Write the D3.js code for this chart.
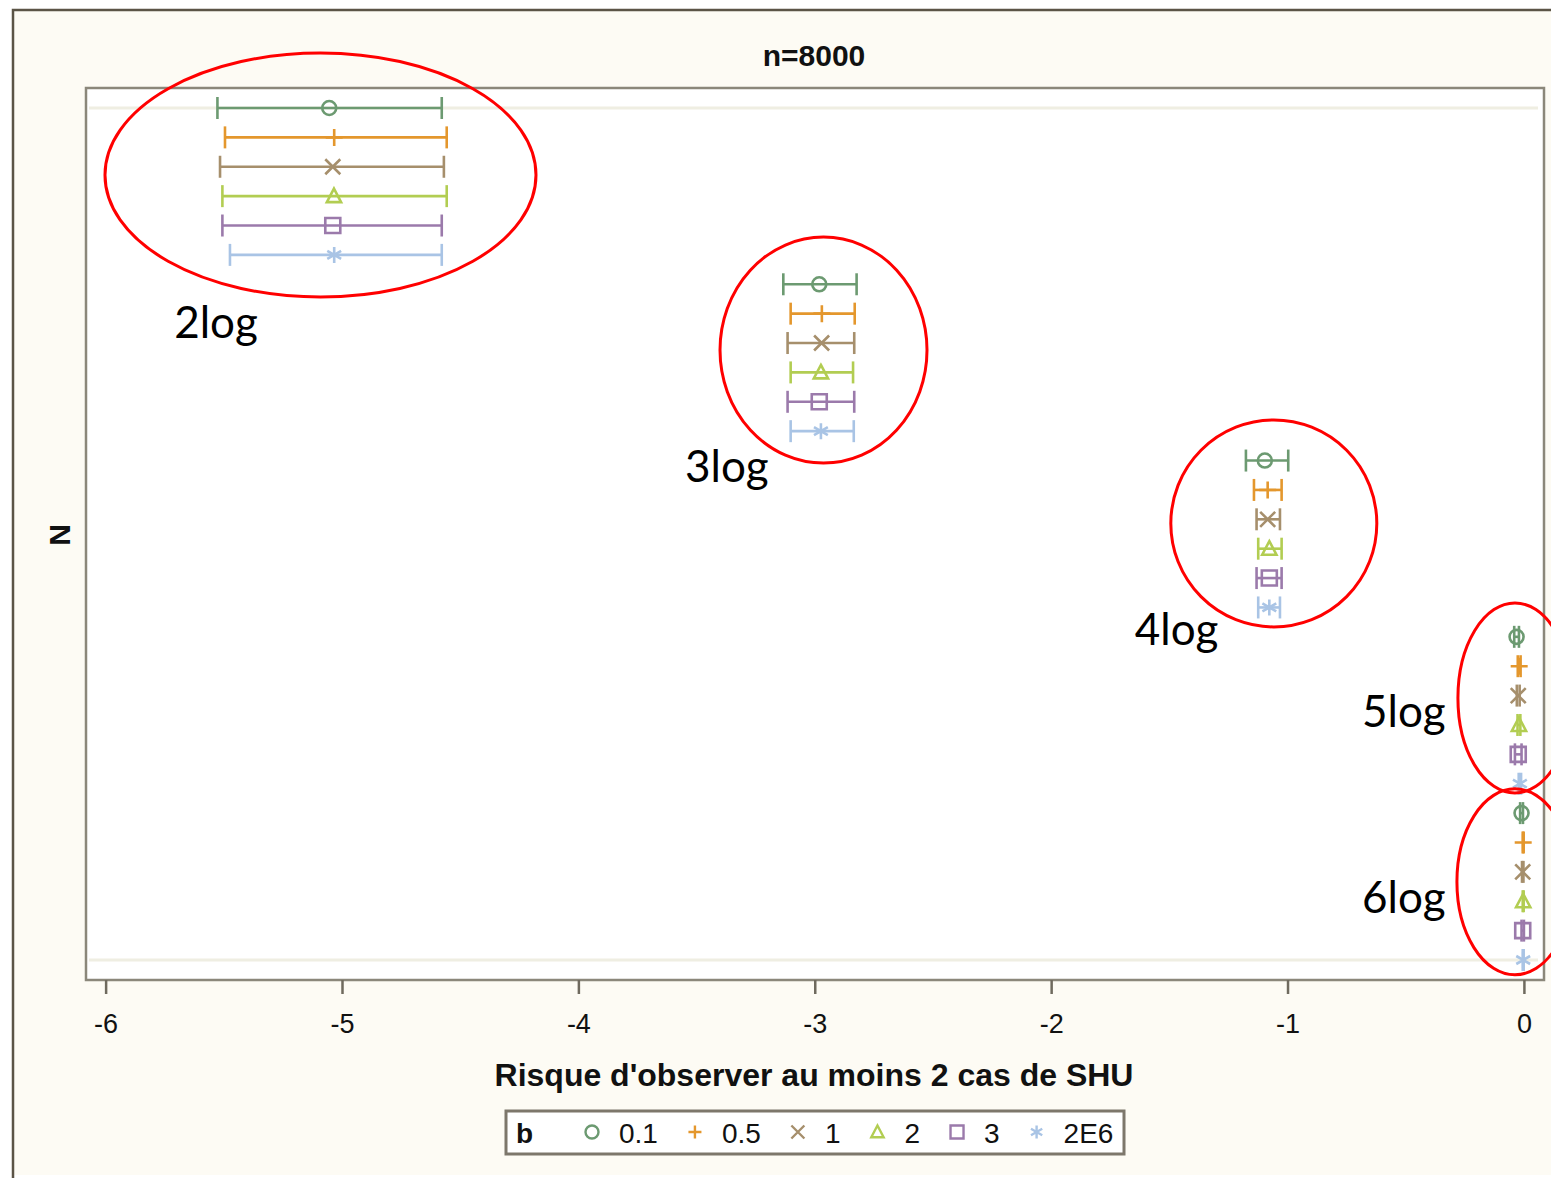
<!DOCTYPE html>
<html><head><meta charset="utf-8">
<script src="https://cdn.jsdelivr.net/npm/d3@7"></script>
<style>body{margin:0;background:#fff}svg{display:block}</style>
</head><body><svg id="c" width="1551" height="1178"></svg>
<script>
// ---------- data ----------
const groups = ["2log", "3log", "4log", "5log", "6log"];
const bValues = ["0.1", "0.5", "1", "2", "3", "2E6"];
const bSymbols = ["circle", "plus", "x", "triangle", "square", "asterisk"];
const bColors = ["#6c9a71", "#e4972d", "#a68f6c", "#b2cd52", "#9b7aab", "#a9c4e5"];

const est_2log = [-5.054, -5.033, -5.039, -5.034, -5.039, -5.033];
const lo_2log  = [-5.527, -5.495, -5.516, -5.506, -5.506, -5.474];
const hi_2log  = [-4.578, -4.557, -4.569, -4.557, -4.578, -4.578];

const est_3log = [-2.981, -2.970, -2.971, -2.974, -2.981, -2.974];
const lo_3log  = [-3.133, -3.102, -3.115, -3.102, -3.115, -3.102];
const hi_3log  = [-2.823, -2.831, -2.833, -2.838, -2.833, -2.835];

const est_4log = [-1.096, -1.084, -1.084, -1.077, -1.077, -1.077];
const lo_4log  = [-1.176, -1.142, -1.131, -1.124, -1.131, -1.124];
const hi_4log  = [-0.997, -1.025, -1.032, -1.025, -1.025, -1.032];

const est_5log = [-0.031, -0.020, -0.024, -0.021, -0.024, -0.017];
const lo_5log  = [-0.041, -0.026, -0.030, -0.027, -0.038, -0.022];
const hi_5log  = [-0.021, -0.014, -0.018, -0.015, -0.010, -0.012];

const est_6log = [-0.010, -0.003, -0.005, -0.003, -0.005, -0.003];
const lo_6log  = [-0.016, -0.005, -0.008, -0.005, -0.010, -0.005];
const hi_6log  = [-0.004, -0.001, -0.002, -0.001, 0.000, -0.001];

const estimates = [est_2log, est_3log, est_4log, est_5log, est_6log];
const lowers = [lo_2log, lo_3log, lo_4log, lo_5log, lo_6log];
const uppers = [hi_2log, hi_3log, hi_4log, hi_5log, hi_6log];

const xTicks = [-6, -5, -4, -3, -2, -1, 0];
const xTickLabels = ["-6", "-5", "-4", "-3", "-2", "-1", "0"];

const titleText = "n=8000";
const xTitle = "Risque d'observer au moins 2 cas de SHU";
const yTitle = "N";
const legendTitle = "b";

// hand-drawn annotations (centre in x units and row index)
const annoLabels = ["2log", "3log", "4log", "5log", "6log"];
const annoCx = [-5.091, -2.963, -1.058, -0.038, -0.038];
const annoRow = [2.28, 8.24, 14.14, 20.08, 26.34];
const annoLabelX = [-5.710, -3.549, -1.646, -0.685, -0.685];
const annoLabelRow = [7.83, 12.73, 18.28, 21.07, 27.4];

// ---------- layout / style ----------
const W = 1551, H = 1178;
const plot = {l: 86, t: 88, r: 1544, b: 980};
const annoRx = [215.5, 103.5, 103, 57, 58];
const annoRy = [122, 113, 103.5, 95, 93];

const svg = d3.select("#c");
const FONT = "'Liberation Sans', Arial, sans-serif";

// outer background + frame
svg.append("rect").attr("x", 13).attr("y", 10).attr("width", W).attr("height", 1165).attr("fill", "#fdfbf4");
svg.append("path").attr("d", `M13,${H} V10 H${W}`).attr("fill", "none").attr("stroke", "#5b5446").attr("stroke-width", 2.5);

// plot area
svg.append("rect").attr("x", plot.l).attr("y", plot.t).attr("width", plot.r - plot.l).attr("height", plot.b - plot.t)
  .attr("fill", "#fff").attr("stroke", "#8b877a").attr("stroke-width", 2.5);

const rows = [];
groups.forEach((g, gi) => bValues.forEach((b, bi) => rows.push({
  key: g + "|" + b, g, gi, bi, est: estimates[gi][bi], lo: lowers[gi][bi], hi: uppers[gi][bi]
})));

const x = d3.scaleLinear().domain([-6.083, 0.085]).range([plot.l, plot.r]);
const y = d3.scalePoint().domain(rows.map(r => r.key)).range([108, 960]);
const rowPos = d3.scaleLinear().domain([0, rows.length - 1]).range(y.range());

// faint reference lines at first & last rows
[rows[0].key, rows[rows.length - 1].key].forEach(k => {
  svg.append("line").attr("x1", plot.l + 3).attr("x2", plot.r - 6).attr("y1", y(k)).attr("y2", y(k))
    .attr("stroke", "#efeee2").attr("stroke-width", 3);
});

function symbolPath(type, s) {
  switch (type) {
    case "circle": return `M${s},0A${s},${s} 0 1 1 ${-s},0A${s},${s} 0 1 1 ${s},0Z`;
    case "plus": return `M${-s},0H${s}M0,${-s}V${s}`;
    case "x": return `M${-s},${-s}L${s},${s}M${-s},${s}L${s},${-s}`;
    case "triangle": return `M0,${-s}L${s * 0.95},${s * 0.8}H${-s * 0.95}Z`;
    case "square": return `M${-s},${-s}H${s}V${s}H${-s}Z`;
    case "asterisk": {
      const a = s * 0.866, h = s * 0.5;
      return `M0,${-s}V${s}M${-a},${-h}L${a},${h}M${-a},${h}L${a},${-h}`;
    }
  }
}
const symSize = {circle: 7, plus: 8.5, x: 7.5, triangle: 7.5, square: 7.5, asterisk: 8};

// error bars
const capH = 11;
const eg = svg.append("g");
const rg = eg.selectAll("g.row").data(rows).join("g").attr("class", "row")
  .attr("stroke", d => bColors[d.bi]).attr("fill", "none").attr("stroke-width", 2.6);
rg.append("line").attr("x1", d => x(d.lo)).attr("x2", d => x(d.hi)).attr("y1", d => y(d.key)).attr("y2", d => y(d.key));
rg.append("line").attr("x1", d => x(d.lo)).attr("x2", d => x(d.lo)).attr("y1", d => y(d.key) - capH).attr("y2", d => y(d.key) + capH);
rg.append("line").attr("x1", d => x(d.hi)).attr("x2", d => x(d.hi)).attr("y1", d => y(d.key) - capH).attr("y2", d => y(d.key) + capH);
rg.append("path").attr("transform", d => `translate(${x(d.est)},${y(d.key)})`)
  .attr("d", d => symbolPath(bSymbols[d.bi], symSize[bSymbols[d.bi]]));

// x axis
const axis = d3.axisBottom(x).tickValues(xTicks).tickFormat((d, i) => xTickLabels[i]).tickSize(14).tickSizeOuter(0);
const ax = svg.append("g").attr("transform", `translate(0,${plot.b})`).call(axis);
ax.select(".domain").remove();
ax.selectAll(".tick line").attr("stroke", "#6f6a5e").attr("stroke-width", 2.5);
ax.selectAll(".tick text").attr("dy", null).attr("y", 53).attr("fill", "#111")
  .style("font-family", FONT).style("font-size", "27px");

// titles
svg.append("text").attr("x", 814).attr("y", 66).attr("text-anchor", "middle")
  .style("font-family", FONT).style("font-size", "30px").style("font-weight", "bold").attr("fill", "#111").text(titleText);
svg.append("text").attr("x", 814).attr("y", 1086).attr("text-anchor", "middle")
  .style("font-family", FONT).style("font-size", "32px").style("font-weight", "bold").attr("fill", "#111").text(xTitle);
svg.append("text").attr("transform", "translate(70,535) rotate(-90)").attr("text-anchor", "middle")
  .style("font-family", FONT).style("font-size", "30px").style("font-weight", "bold").attr("fill", "#111").text(yTitle);

// legend
const lg = svg.append("g");
lg.append("rect").attr("x", 506).attr("y", 1111).attr("width", 618).attr("height", 43)
  .attr("fill", "#fff").attr("stroke", "#7d776b").attr("stroke-width", 3);
lg.append("text").attr("x", 516).attr("y", 1143).style("font-family", FONT).style("font-size", "28px")
  .style("font-weight", "bold").attr("fill", "#111").text(legendTitle);
let cx = 592;
bValues.forEach((b, i) => {
  lg.append("path").attr("transform", `translate(${cx},${1132})`)
    .attr("d", symbolPath(bSymbols[i], 6.5)).attr("fill", "none").attr("stroke", bColors[i]).attr("stroke-width", 2.4);
  const t = lg.append("text").attr("x", cx + 27).attr("y", 1143).style("font-family", FONT).style("font-size", "28px")
    .attr("fill", "#111").text(b);
  cx = cx + 27 + t.node().getComputedTextLength() + 37;
});

// annotations
const an = svg.append("g");
annoLabels.forEach((lab, i) => {
  an.append("ellipse").attr("cx", x(annoCx[i])).attr("cy", rowPos(annoRow[i]))
    .attr("rx", annoRx[i]).attr("ry", annoRy[i]).attr("fill", "none").attr("stroke", "#ff0000").attr("stroke-width", 3);
  an.append("text").attr("x", x(annoLabelX[i])).attr("y", rowPos(annoLabelRow[i]))
    .style("font-family", "Lato, 'Open Sans', sans-serif").style("font-size", "44px").attr("fill", "#000").text(lab);
});
</script></body></html>
